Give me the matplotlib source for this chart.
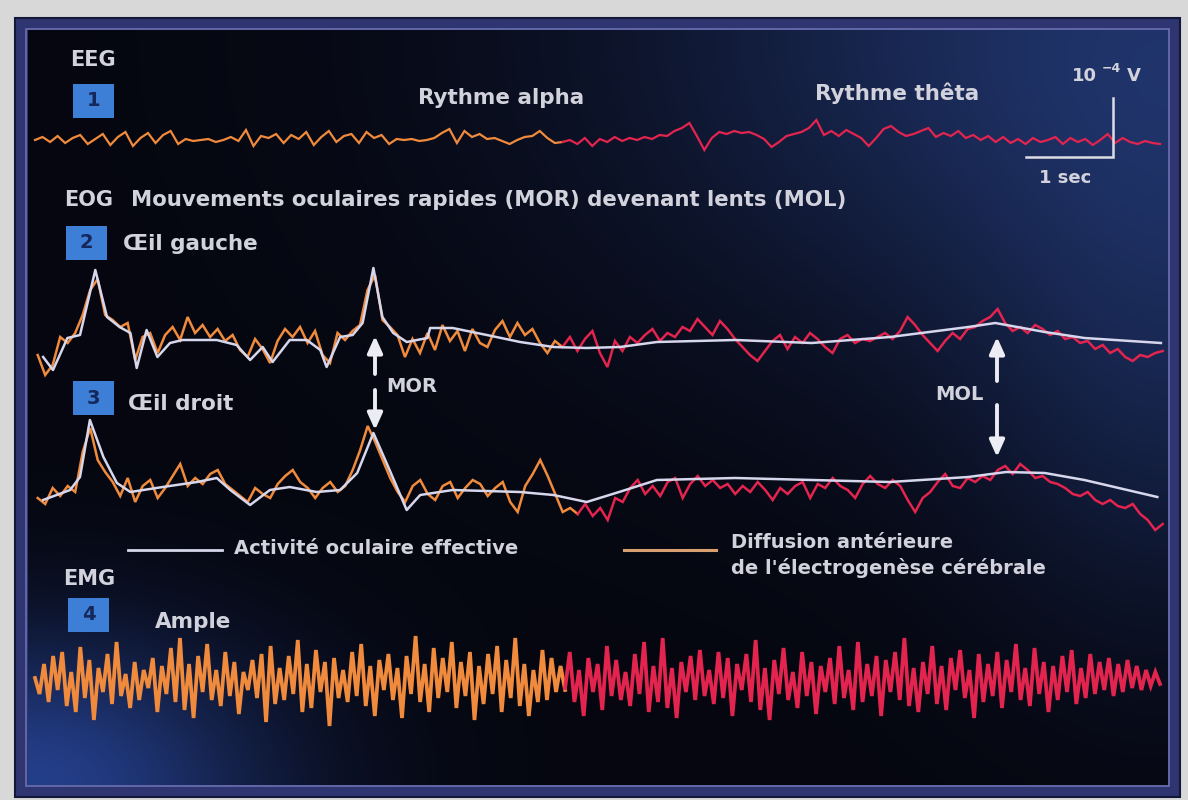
import numpy as np
import matplotlib
matplotlib.use('Agg')
import matplotlib.pyplot as plt
from matplotlib.patches import Rectangle

# ---- data (time in s, amplitude in display units, + = up) ----
eeg_alpha = [0, 3, -2, 4, -3, 2, 5, -4, 1, 6, -5, 3, 8, -6, 2, 7, -3, 5, 9, -4,
             1, -1, 0, 1, -2, 0, 3, -1, 10, -6, 4, 2, 6, -3, 5, 1, 8, -5, 3, 9,
             -2, 4, 6, -3, 8, 2, 5, -4, 1, 0, 1, -1, 0, 2, 7, 11, -3, 9, 3, 6,
             1, 2, -1, -4, 0, 3, 4, 9, 2, -3, -2]
eeg_theta = [-2, 0, -4, 2, -6, 1, -2, 3, -1, 2, 0, 3, 1, 5, 4, 9, 12, 17, 4, -10,
             2, 8, 6, 9, 7, 8, 5, 1, -7, -2, 4, 6, 8, 12, 20, 5, 9, 4, 10, 6,
             2, -6, 2, 11, 14, 8, 4, 6, 9, 12, 3, 7, 4, 9, 2, 5, 0, 4, -2, 3,
             -3, 1, -4, 2, -2, 0, 3, -4, 2, -2, 1, -5, 0, 6, -3, 2, -2, -4, -1, -3, -4]

# EOG left eye: brain diffusion (noisy) + effective ocular activity (smooth)
eog_l_orange = [-10, -30, -20, 8, 2, 12, 30, 55, 66, 30, 25, 18, 22, -15, 8, 12, -8, 10, 18, 5,
                28, 12, 20, 8, 16, 4, 10, -5, -12, 6, -4, -18, 4, 16, 8, 18, 2, 14, -10, -18,
                12, 5, 14, 20, 55, 70, 25, 18, 10, -12, 6, -8, 12, -5, 20, 4, 14, -6, 16, 2,
                -2, 15, 24, 8, 22, 10, 16, 2, -8, 4, -2]
eog_l_red = [-2, 8, -6, 6, 14, -8, -22, 4, -6, 8, 2, 10, 16, 4, 12, 8, 18, 14, 26, 18,
             10, 24, 16, 6, -2, -10, -16, -6, 4, 10, -4, 8, 2, 12, 6, -2, -8, 6, 10, 2,
             6, 4, 8, 12, 6, 14, 28, 20, 10, 2, -6, 4, 12, 6, 16, 18, 24, 28, 36, 22,
             14, 18, 12, 20, 16, 10, 14, 6, 8, 2, 4, -4, 0, -8, -4, -12, -16, -10, -12, -8, -6]
eog_l_eff_t = [0.09, 0.20, 0.36, 0.50, 0.67, 0.80, 0.94, 1.06, 1.13, 1.24, 1.36, 1.50, 1.64, 2.02,
               2.24, 2.39, 2.53, 2.64, 2.83, 3.02, 3.17, 3.24, 3.39, 3.53, 3.64, 3.76, 3.86, 3.98,
               4.13, 4.36, 4.39, 4.64, 5.02, 5.39, 5.76, 6.13, 6.50, 6.91, 7.78, 8.63, 9.50,
               10.37, 10.67, 11.22, 11.66, 12.51]
eog_l_eff_v = [-12, -25, 7, 10, 75, 28, 18, 12, -23, 15, -12, 2, 5, 5,
               0, -15, -2, -17, 5, 5, -5, -22, 8, 10, 22, 77, 28, 12,
               3, 7, 17, 17, 10, 3, -2, -3, -2, 3, 5, 2, 8,
               18, 22, 13, 7, 2]

# EOG right eye
eog_r_orange = [-8, -14, 2, -6, 4, -2, 38, 62, 30, 18, 8, -6, 12, -12, 4, 10, -8, 2, 14, 26,
                4, 12, 6, 16, 20, 6, 0, -6, -12, 2, -4, -8, 6, 14, 20, 8, 2, -8, 2, 8,
                -2, 4, 20, 40, 64, 48, 30, 12, -2, -12, 4, 10, -4, -10, 4, 8, -8, 2, 10, 6,
                -6, 2, 8, -12, -22, 4, 16, 30, 14, -4, -22, -18, -24]
eog_r_red = [-24, -14, -26, -18, -30, -8, -12, 2, 10, -4, 4, -6, 8, 12, -8, 6, 14, 4, 10, 2,
             6, -4, 4, -2, 8, 0, -10, 2, -4, 4, 8, -8, 6, 2, 12, 4, 0, -8, 6, 14,
             6, 2, 10, 4, -10, -22, -8, -2, 8, 16, 4, 2, 12, 8, 14, 10, 20, 24, 16, 26,
             20, 12, 14, 8, 6, 2, -4, -6, -2, -10, -14, -10, -16, -18, -14, -24, -30, -40, -34]
eog_r_eff_t = [0.09, 0.39, 0.50, 0.61, 0.76, 0.91, 1.06, 1.42, 1.80, 2.02, 2.17, 2.39, 2.61, 2.83,
               3.13, 3.39, 3.58, 3.76, 3.94, 4.13, 4.28, 4.64, 5.39, 5.76, 6.13, 6.49, 6.91,
               7.78, 8.63, 9.50, 10.37, 10.79, 11.22, 11.66, 12.47]
eog_r_eff_v = [-10, 0, 13, 70, 33, 7, -2, 3, 8, 12, 0, -15, 0, 3,
               -2, 0, 17, 57, 20, -20, -5, 0, -2, -5, -12, -2, 10,
               12, 10, 8, 13, 18, 17, 10, -7]

# EMG
emg_orange = [4, -12, 18, -20, 26, -8, 30, -24, 10, -30, 35, -16, 22, -38, 14, -10, 28, -22, 40, -14,
              8, -26, 20, -18, 12, -6, 24, -30, 16, -12, 34, -20, 44, -28, 18, -36, 26, -10, 38, -18,
              12, -24, 30, -14, 20, -32, 10, -8, 22, -16, 28, -40, 36, -22, 14, -18, 26, -12, 42, -30,
              18, -26, 32, -10, 20, -44, 24, -16, 12, -20, 30, -14, 38, -24, 16, -34, 22, -8, 28, -18,
              14, -36, 26, -12, 46, -20, 18, -30, 34, -16, 24, -10, 40, -26, 20, -14, 30, -38, 16, -22,
              28, -12, 36, -30, 22, -16, 44, -24, 18, -34, 12, -20, 32, -18, 24, -10, 16, -8]
emg_red = [-6, 30, -20, 12, -34, 24, -10, 18, -28, 36, -14, 22, -18, 10, -24, 28, -12, 40, -30, 16,
           -20, 44, -26, 14, -36, 20, -10, 26, -18, 32, -14, 12, -22, 30, -16, 24, -34, 18, -8, 28,
           -20, 42, -28, 14, -38, 22, -12, 34, -18, 10, -26, 30, -14, 20, -32, 16, -10, 24, -22, 36,
           -16, 12, -28, 40, -20, 18, -14, 26, -34, 22, -10, 30, -18, 44, -24, 14, -30, 20, -12, 36,
           -22, 16, -28, 24, -8, 32, -16, 12, -36, 28, -20, 18, -14, 30, -26, 22, -10, 38, -18, 14,
           -24, 34, -12, 20, -30, 16, -18, 26, -10, 32, -22, 14, -16, 28, -12, 20, -8, 24, -14, 18,
           -10, 22, -6, 16, -8, 12, -4, 10, -2]

# segment time spans (s): orange = before sleep onset, red = after
eeg_span = (0.0, 5.86, 12.5)
eog_l_span = (0.03, 5.86, 12.53)
eog_r_span = (0.03, 6.03, 12.53)
emg_span = (0.0, 5.89, 12.5)

# ---- layout / style ----
X0, PX_S = 35, 90.0          # 1 sec = 90 px
BASE = {'eeg': 140, 'eogl': 345, 'eogr': 490, 'emg': 682}
ORANGE = '#f08a3c'
RED = '#e3244f'
WHITE = '#d6d6ec'
TXT = '#d2d2dc'
BOXC = '#3d7fd6'
plt.rcParams['font.family'] = ['DejaVu Sans']

fig = plt.figure(figsize=(11.88, 8), dpi=100, facecolor='#d8d8d8')
ax = fig.add_axes([0, 0, 1, 1])
ax.set_xlim(0, 1188)
ax.set_ylim(800, 0)
ax.axis('off')

# frame
ax.add_patch(Rectangle((15, 18), 1165, 779, facecolor='#2e3570', edgecolor='#141838', lw=1.5, zorder=0))
ax.add_patch(Rectangle((26, 29), 1143, 757, facecolor='none', edgecolor='#6a6fb0', lw=1.2, zorder=1))

# dark background with bluish glows
H, W = 755, 1140
yy, xx = np.mgrid[0:H, 0:W]
img = np.zeros((H, W, 3))
img[:] = [0.02, 0.025, 0.06]
g1 = np.exp(-(((xx - W) / 520.0) ** 2 + ((yy - 0) / 330.0) ** 2))
g2 = np.exp(-(((xx - 0) / 240.0) ** 2 + ((yy - H) / 150.0) ** 2))
g3 = np.exp(-(((xx - W) / 200.0) ** 2 + ((yy - 380) / 260.0) ** 2))
img += g1[..., None] * np.array([0.10, 0.17, 0.34])
img += g2[..., None] * np.array([0.12, 0.22, 0.48])
img += g3[..., None] * np.array([0.04, 0.07, 0.14])
ax.imshow(np.clip(img, 0, 1), extent=(28, 28 + W, 30 + H, 30), zorder=0.5, aspect='auto')


def px(t, v, key):
    return X0 + np.asarray(t) * PX_S, BASE[key] - np.asarray(v, dtype=float)


def seg(vals, t0, t1, key, color, lw):
    t = np.linspace(t0, t1, len(vals))
    x, y = px(t, vals, key)
    ax.plot(x, y, color=color, lw=lw, zorder=2, solid_joinstyle='miter')


seg(eeg_alpha, eeg_span[0], eeg_span[1], 'eeg', ORANGE, 1.6)
seg(eeg_theta, eeg_span[1], eeg_span[2], 'eeg', RED, 1.6)
seg(eog_l_orange, eog_l_span[0], eog_l_span[1], 'eogl', ORANGE, 1.8)
seg(eog_l_red, eog_l_span[1], eog_l_span[2], 'eogl', RED, 1.8)
seg(eog_r_orange, eog_r_span[0], eog_r_span[1], 'eogr', ORANGE, 1.8)
seg(eog_r_red, eog_r_span[1], eog_r_span[2], 'eogr', RED, 1.8)
seg(emg_orange, emg_span[0], emg_span[1], 'emg', ORANGE, 2.7)
seg(emg_red, emg_span[1], emg_span[2], 'emg', RED, 2.7)

x, y = px(eog_l_eff_t, eog_l_eff_v, 'eogl')
ax.plot(x, y, color=WHITE, lw=1.8, zorder=3)
x, y = px(eog_r_eff_t, eog_r_eff_v, 'eogr')
ax.plot(x, y, color=WHITE, lw=1.8, zorder=3)

# labels
tk = dict(color=TXT, fontweight='bold', va='center', ha='left', zorder=5)
ax.text(70, 60, 'EEG', fontsize=15, **tk)
ax.text(418, 98, 'Rythme alpha', fontsize=15.5, **tk)
ax.text(815, 93, 'Rythme thêta', fontsize=15.5, **tk)
ax.text(64, 200, 'EOG', fontsize=15, **tk)
ax.text(131, 200, 'Mouvements oculaires rapides (MOR) devenant lents (MOL)', fontsize=15.3, **tk)
ax.text(123, 244, 'Œil gauche', fontsize=15.5, **tk)
ax.text(128, 404, 'Œil droit', fontsize=15.5, **tk)
ax.text(386, 386, 'MOR', fontsize=14, **tk)
ax.text(935, 395, 'MOL', fontsize=14, **tk)
ax.text(63, 579, 'EMG', fontsize=15, **tk)
ax.text(155, 622, 'Ample', fontsize=15.5, **tk)
ax.text(234, 549, 'Activité oculaire effective', fontsize=14, **tk)
ax.text(731, 543, 'Diffusion antérieure', fontsize=14, **tk)
ax.text(731, 568, "de l'électrogenèse cérébrale", fontsize=14, **tk)

# legend strokes
ax.plot([128, 222], [550, 550], color=WHITE, lw=2, zorder=4)
ax.plot([624, 716], [550, 550], color='#d8a070', lw=2.2, zorder=4)

# numbered boxes
for n, (bx, by) in zip('1234', [(73, 84), (66, 226), (73, 381), (68, 598)]):
    ax.add_patch(Rectangle((bx, by), 41, 34, facecolor=BOXC, edgecolor='none', zorder=4))
    ax.text(bx + 20.5, by + 17, n, color='#16275c', fontsize=14, fontweight='bold',
            ha='center', va='center', zorder=5)

# scale bar
ax.plot([1026, 1113, 1113], [157, 157, 98], color='#dcdce4', lw=1.8, zorder=4,
        solid_joinstyle='miter')
ax.text(1065, 178, '1 sec', color=TXT, fontsize=13, fontweight='bold', ha='center', va='center', zorder=5)
ax.text(1072, 76, '10', color=TXT, fontsize=13, fontweight='bold', ha='left', va='center', zorder=5)
ax.text(1102, 68, '\u22124', color=TXT, fontsize=9, fontweight='bold', ha='left', va='center', zorder=5)
ax.text(1127, 76, 'V', color=TXT, fontsize=13, fontweight='bold', ha='left', va='center', zorder=5)

# arrows
ap = dict(arrowstyle='-|>,head_width=0.45,head_length=1.0', color='#ececf4', lw=2.8,
          shrinkA=0, shrinkB=0)
for tail, tip in [((375, 374), (375, 336)), ((375, 390), (375, 430)),
                  ((997, 381), (997, 337)), ((997, 405), (997, 457))]:
    ax.annotate('', xy=tip, xytext=tail, arrowprops=ap, zorder=5)

fig.savefig('out.png', dpi=100, facecolor=fig.get_facecolor())
